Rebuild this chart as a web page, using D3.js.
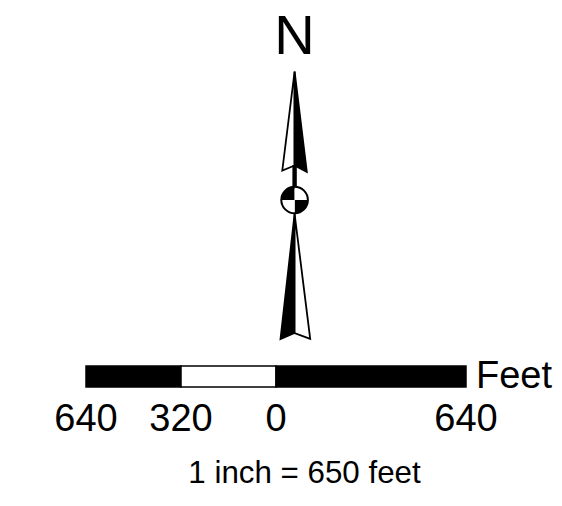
<!DOCTYPE html>
<html>
<head>
<meta charset="utf-8">
<script src="https://cdn.jsdelivr.net/npm/d3@7"></script>
<style>
html,body{margin:0;padding:0;background:#fff;}
svg{display:block;}
text{font-family:"Liberation Sans",Arial,sans-serif;fill:#000;}
</style>
</head>
<body>
<script>
// Scale bar data
const scaleDomain = [-640, 640];
const segmentStarts = [-640, -320, 0];
const segmentEnds = [-320, 0, 640];
const segmentFills = ["#000", "#fff", "#000"];
const tickValues = [-640, -320, 0, 640];
const tickLabels = ["640", "320", "0", "640"];
const unitLabel = "Feet";
const scaleText = "1 inch = 650 feet";
const northLabel = "N";

const W = 562, H = 506;
const svg = d3.select("body").append("svg").attr("width", W).attr("height", H);

// ---- Scale bar ----
const x = d3.scaleLinear().domain(scaleDomain).range([86, 466]);
const barTop = 366, barH = 21;
const segs = segmentStarts.map((s, i) => ({s, e: segmentEnds[i], fill: segmentFills[i]}));
svg.append("g").selectAll("rect").data(segs).join("rect")
  .attr("x", d => x(d.s))
  .attr("y", barTop)
  .attr("width", d => x(d.e) - x(d.s))
  .attr("height", barH)
  .attr("fill", d => d.fill)
  .attr("stroke", "#000")
  .attr("stroke-width", 1.5);

svg.append("g").selectAll("text").data(tickValues).join("text")
  .attr("x", d => x(d))
  .attr("y", 430.5)
  .attr("text-anchor", "middle")
  .attr("font-size", 38)
  .text((d, i) => tickLabels[i]);

svg.append("text")
  .attr("x", x(scaleDomain[1]) + 10)
  .attr("y", 387.5)
  .attr("font-size", 38)
  .text(unitLabel);

svg.append("text")
  .attr("x", 304.5)
  .attr("y", 482.5)
  .attr("text-anchor", "middle")
  .attr("font-size", 31.3)
  .text(scaleText);

// ---- North arrow ----
const cx = 294.6;
const g = svg.append("g");
const line = d3.line();

// upper arrow (tip, left base, notch, right base)
const upTip = [cx, 71.5], upL = [282.3, 170.5], upN = [cx, 165.5], upR = [306.8, 172];
g.append("path").attr("d", line([upTip, upL, upN]) + "Z").attr("fill", "#fff").attr("stroke", "#000").attr("stroke-width", 1.8).attr("stroke-linejoin", "miter");
g.append("path").attr("d", line([upTip, upN, upR]) + "Z").attr("fill", "#000").attr("stroke", "#000").attr("stroke-width", 1.8);

// shaft
g.append("rect").attr("x", cx - 2.2).attr("y", 165).attr("width", 4.4).attr("height", 24).attr("fill", "#000");

// circle with quadrants
const ccy = 200, r = 13.3;
const arc = d3.arc().innerRadius(0).outerRadius(r);
const quads = [
  {a0: -Math.PI/2, a1: 0, fill: "#000"},
  {a0: 0, a1: Math.PI/2, fill: "#fff"},
  {a0: Math.PI/2, a1: Math.PI, fill: "#000"},
  {a0: Math.PI, a1: 1.5*Math.PI, fill: "#fff"}
];
g.selectAll("path.q").data(quads).join("path").attr("class", "q")
  .attr("transform", `translate(${cx},${ccy})`)
  .attr("d", d => arc({startAngle: d.a0, endAngle: d.a1}))
  .attr("fill", d => d.fill);
g.append("circle").attr("cx", cx).attr("cy", ccy).attr("r", r).attr("fill", "none").attr("stroke", "#000").attr("stroke-width", 2);

// lower arrow
const loTip = [cx, 214], loL = [280.5, 339], loN = [cx, 333], loR = [310.2, 338.8];
g.append("path").attr("d", line([loTip, loL, loN]) + "Z").attr("fill", "#000").attr("stroke", "#000").attr("stroke-width", 1.8);
g.append("path").attr("d", line([loTip, loN, loR]) + "Z").attr("fill", "#fff").attr("stroke", "#000").attr("stroke-width", 1.8);

// N label
svg.append("text")
  .attr("x", cx)
  .attr("y", 54)
  .attr("text-anchor", "middle")
  .attr("font-size", 56)
  .text(northLabel);
</script>
</body>
</html>
